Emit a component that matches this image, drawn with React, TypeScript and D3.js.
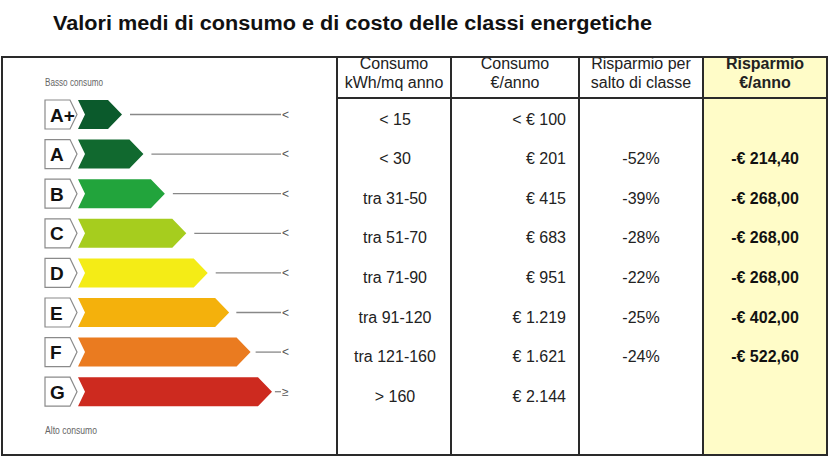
import React from "react";
import * as d3 from "d3";

const title = "Valori medi di consumo e di costo delle classi energetiche";
const classes = ["A+", "A", "B", "C", "D", "E", "F", "G"];
const consumoKwh = ["< 15", "< 30", "tra 31-50", "tra 51-70", "tra 71-90", "tra 91-120", "tra 121-160", "> 160"];
const consumoEuro = ["< € 100", "€ 201", "€ 415", "€ 683", "€ 951", "€ 1.219", "€ 1.621", "€ 2.144"];
const risparmioPerc = ["", "-52%", "-39%", "-28%", "-22%", "-25%", "-24%", ""];
const risparmioEuro = ["", "-€ 214,40", "-€ 268,00", "-€ 268,00", "-€ 268,00", "-€ 402,00", "-€ 522,60", ""];
const headers = [
  ["Consumo", "kWh/mq anno"],
  ["Consumo", "€/anno"],
  ["Risparmio per", "salto di classe"],
  ["Risparmio", "€/anno"],
];
const classColors = ["#0b5a2c", "#11692f", "#22a43c", "#a6cd1e", "#f4ec16", "#f4b10c", "#ea7b20", "#cd2a1f"];

const FONT = "'Liberation Sans', Arial, sans-serif";

export default function App() {
  const W = 833, H = 469;
  const colX = [337, 451, 579, 703, 827];
  const top = 57, bottom = 455, headerBottom = 98;

  const y = d3.scalePoint<string>().domain(classes).range([114.5, 391.7]);
  const tipX = d3.scaleLinear().domain([0, classes.length - 1]).range([122, 272]);
  const half = 14.5;

  const line = d3.line();

  return (
    <svg width={W} height={H} style={{ position: "absolute", left: 0, top: 0, background: "#fff" }}>
      <rect x={0} y={0} width={W} height={H} fill="#fff" />
      <text x={53} y={30} fontFamily={FONT} fontWeight="bold" fontSize={20} fill="#111" textLength={599} lengthAdjust="spacingAndGlyphs">
        {title}
      </text>

      {/* yellow column */}
      <rect x={colX[3]} y={top} width={colX[4] - colX[3]} height={bottom - top} fill="#fffcc8" />

      {/* Energy label panel */}
      <text x={45} y={86} fontFamily={FONT} fontSize={10} fill="#666" textLength={58} lengthAdjust="spacingAndGlyphs">Basso consumo</text>
      <text x={45} y={434} fontFamily={FONT} fontSize={10} fill="#666" textLength={52} lengthAdjust="spacingAndGlyphs">Alto consumo</text>
      {classes.map((c, i) => {
        const cy = y(c)!;
        const tip = tipX(i);
        const box = line([[45, cy - half], [70, cy - half], [77, cy], [70, cy + half], [45, cy + half]])! + "Z";
        const arrow = line([[78, cy - half], [tip - 14, cy - half], [tip, cy], [tip - 14, cy + half], [78, cy + half], [85, cy]])! + "Z";
        return (
          <g key={c}>
            <path d={box} fill="#fff" stroke="#8a8a8a" strokeWidth={1.2} />
            <text x={50} y={cy + 7} fontFamily={FONT} fontWeight="bold" fontSize={19} fill="#111">{c}</text>
            <path d={arrow} fill={classColors[i]} />
            <line x1={Math.min(tip + 8, tip + 2 + (281 - tip) * 0.1)} x2={281} y1={cy} y2={cy} stroke="#888" strokeWidth={1.3} />
            <text x={282} y={cy + 4} fontFamily={FONT} fontSize={12} fill="#555">{i === classes.length - 1 ? "≥" : "<"}</text>
          </g>
        );
      })}

      {/* headers */}
      {headers.map((h, j) => {
        const cx = (colX[j] + colX[j + 1]) / 2;
        const bold = j === 3;
        return (
          <g key={j}>
            <text x={cx} y={69} textAnchor="middle" fontFamily={FONT} fontSize={16} fontWeight={bold ? "bold" : "normal"} fill="#222">{h[0]}</text>
            <text x={cx} y={88} textAnchor="middle" fontFamily={FONT} fontSize={16} fontWeight={bold ? "bold" : "normal"} fill="#222">{h[1]}</text>
          </g>
        );
      })}

      {/* body */}
      {classes.map((c, i) => {
        const by = y(c)! + 10;
        return (
          <g key={"r" + c} fontFamily={FONT} fontSize={16} fill="#222">
            <text x={395} y={by} textAnchor="middle">{consumoKwh[i]}</text>
            <text x={566} y={by} textAnchor="end">{consumoEuro[i]}</text>
            <text x={641} y={by} textAnchor="middle">{risparmioPerc[i]}</text>
            <text x={765} y={by} textAnchor="middle" fontWeight="bold" fill="#111">{risparmioEuro[i]}</text>
          </g>
        );
      })}

      {/* grid lines */}
      <rect x={2} y={top} width={colX[4] - 2} height={bottom - top} fill="none" stroke="#2a2a2a" strokeWidth={2} />
      {colX.slice(0, 4).map((x) => (
        <line key={x} x1={x} x2={x} y1={top} y2={bottom} stroke="#2a2a2a" strokeWidth={2} />
      ))}
      <line x1={colX[0]} x2={colX[4]} y1={headerBottom} y2={headerBottom} stroke="#2a2a2a" strokeWidth={2} />
    </svg>
  );
}
